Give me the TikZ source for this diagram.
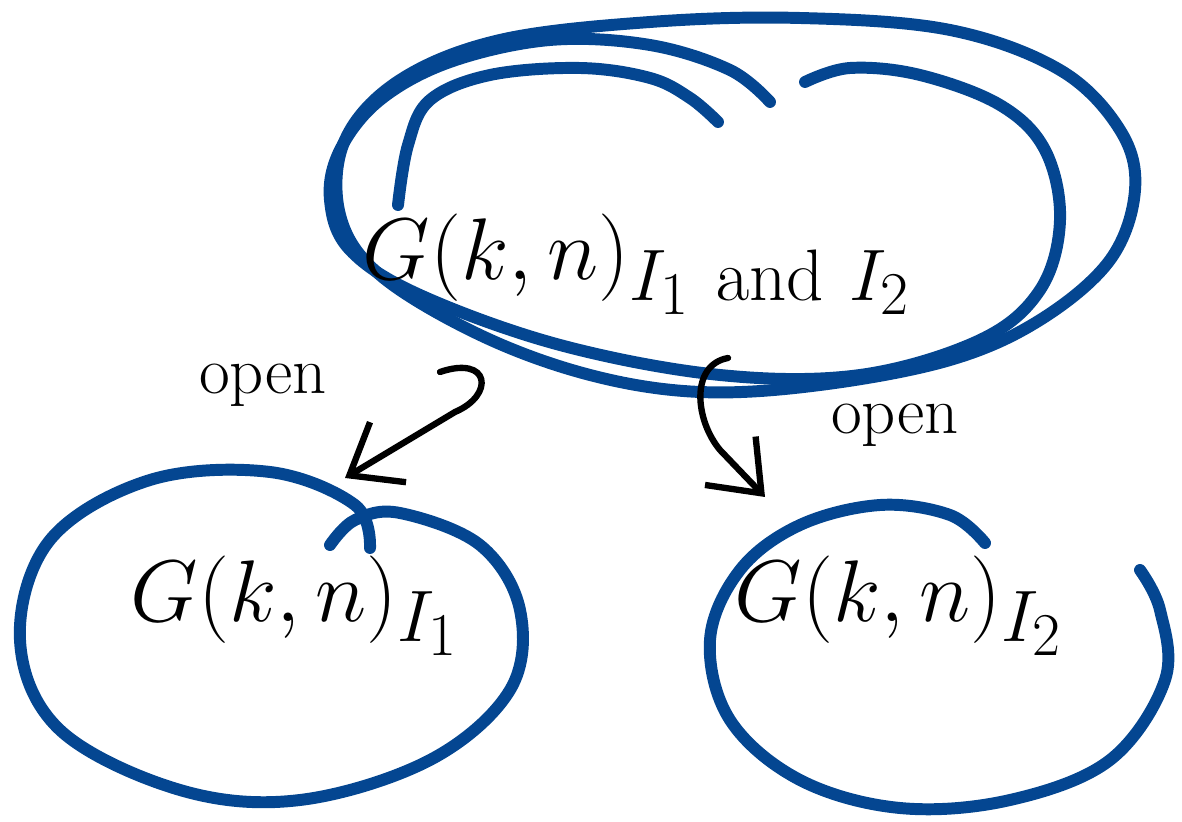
\documentclass[tikz,border=0pt]{standalone}
\usepackage{tikz}
\usetikzlibrary{arrows.meta,positioning}
\DeclareMathSizes{24}{24}{20}{16}
\definecolor{penblue}{RGB}{4,70,145}
\tikzstyle{blob}  = [penblue, line width=3.4pt, line cap=round, line join=round]
\tikzstyle{arrow} = [line width=1.8pt, line cap=round, -{Straight Barb[length=4.5mm,width=7mm,line width=1.8pt]}]
\tikzstyle{lbl}   = [font=\fontsize{24}{28}\selectfont, inner sep=0pt]
\tikzstyle{word}  = [font=\fontsize{19}{22}\selectfont, inner sep=0pt]

\begin{document}
\begin{tikzpicture}[x=0.01cm, y=-0.01cm]
        \useasboundingbox (0,0) rectangle (1182,822);

        % big blob on top
        \draw[blob] plot[smooth, tension=0.6] coordinates {(398,205) (408,145) (430,100) (490,75) (580,68) (650,78) (690,98) (718,122)};
        \draw[blob] plot[smooth, tension=0.6] coordinates {(770,102) (730,70) (650,45) (550,40) (450,62) (380,100) (340,150) (330,200) (350,250) (420,295) (560,345) (720,375) (860,375) (980,340) (1040,290) (1060,220) (1045,150) (1000,105) (920,75) (850,68) (805,82)};
        \draw[blob] plot[smooth cycle, tension=0.6] coordinates {(400,80) (500,40) (650,22) (800,18) (950,30) (1060,70) (1120,130) (1135,190) (1110,260) (1040,320) (950,360) (820,385) (700,392) (590,375) (480,335) (380,275) (340,215) (345,140)};

        % left blob
        \draw[blob] plot[smooth, tension=0.6] coordinates {(370,548) (355,505) (270,472) (150,480) (50,540) (20,640) (60,730) (180,790) (300,800) (430,760) (510,690) (520,610) (480,545) (400,513) (355,520) (330,545)};

        % right blob
        \draw[blob] plot[smooth, tension=0.6] coordinates {(985,543) (950,515) (880,505) (800,525) (740,570) (710,640) (730,720) (800,780) (900,808) (1010,800) (1110,760) (1165,680) (1160,610) (1140,570)};

        % texts
        \node[lbl, anchor=base west] (both) at (362,280) {$G(k,n)_{I_1\ \mathrm{and}\ I_2}$};
        \node[lbl, anchor=base west] (one) at (130,622) {$G(k,n)_{I_1}$};
        \node[lbl, anchor=base west] (two) at (734,622) {$G(k,n)_{I_2}$};

        \node[word] (openl) at (263,385) {open};
        \node[word] (openr) at (895,425) {open};

        % arrows
        \coordinate (startl) at (440,372);
        \coordinate (endl) at (345,478);
        \coordinate (startr) at (728,358);
        \coordinate (endr) at (765,497);

        \draw[arrow] (startl) .. controls (490,355) and (495,395) .. (455,412) -- (endl);
        \draw[arrow] (startr) .. controls (690,365) and (695,420) .. (720,450) -- (endr);
    \end{tikzpicture}
\end{document}
